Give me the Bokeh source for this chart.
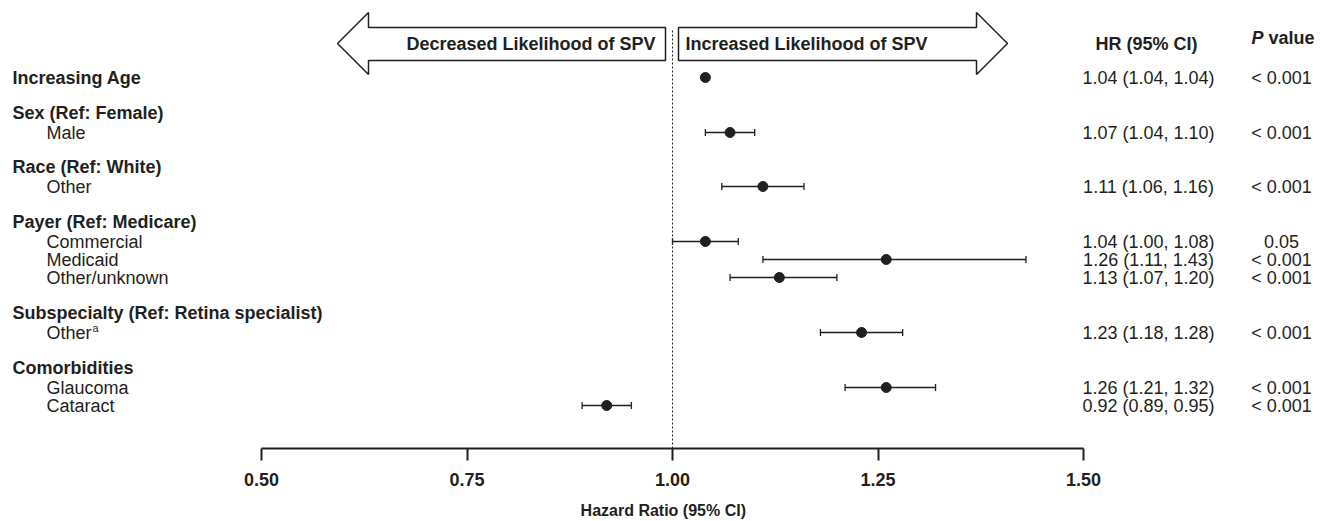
from bokeh.plotting import figure
from bokeh.models import Range1d, LinearAxis, FixedTicker, PrintfTickFormatter, ColumnDataSource
from bokeh.core.properties import value
from bokeh.embed import file_html
from bokeh.resources import INLINE

# ---------------- data ----------------
group_names = ["Increasing Age", "Sex (Ref: Female)", "Race (Ref: White)",
               "Payer (Ref: Medicare)", "Subspecialty (Ref: Retina specialist)", "Comorbidities"]
group_items = [[], ["Male"], ["Other"], ["Commercial", "Medicaid", "Other/unknown"],
               ["Other"], ["Glaucoma", "Cataract"]]
superscripts = ["", "", "", "", "", "", "a", "", ""]
hr = [1.04, 1.07, 1.11, 1.04, 1.26, 1.13, 1.23, 1.26, 0.92]
ci_lo = [1.04, 1.04, 1.06, 1.00, 1.11, 1.07, 1.18, 1.21, 0.89]
ci_hi = [1.04, 1.10, 1.16, 1.08, 1.43, 1.20, 1.28, 1.32, 0.95]
p_values = ["< 0.001", "< 0.001", "< 0.001", "0.05", "< 0.001", "< 0.001",
            "< 0.001", "< 0.001", "< 0.001"]
tick_values = [0.50, 0.75, 1.00, 1.25, 1.50]
ref_value = 1.0

# ---------------- layout ----------------
W, FH = 1330, 448
SCALE = 822.0                    # px per HR unit
X0 = 0.5 - 261 / SCALE
X1 = X0 + W / SCALE
FONT = "Liberation Sans"
INK = "#231f20"

def px(p):
    return X0 + p / SCALE

# row positions
header_y, header_txt = [], []
item_y, item_txt = [], []
data_y = []
y = 77
for g, (name, items) in enumerate(zip(group_names, group_items)):
    if g > 0:
        y += 34 if g == 2 else 35
    header_y.append(y)
    header_txt.append(name)
    if not items:
        data_y.append(y)
    for k, it in enumerate(items):
        y += 20 if k == 0 else 18
        item_y.append(y)
        item_txt.append(it)
        data_y.append(y)

p = figure(frame_width=W, frame_height=FH, x_range=Range1d(X0, X1), y_range=Range1d(FH, 0),
           x_axis_type=None, y_axis_type=None, toolbar_location=None,
           output_backend="svg", min_border=0, min_border_left=0, min_border_right=0,
           min_border_top=0)
p.outline_line_color = None
p.background_fill_color = "white"
p.border_fill_color = "white"

# arrows
def arrow(sign, near):
    xs_px = [near, 304, 304, 335, 304, 304, near]
    ys = [27, 27, 12, 43, 74, 60, 60]
    xs = [ref_value + sign * d / SCALE for d in xs_px]
    return xs, ys

lx, ly = arrow(-1, 7)
rx, ry = arrow(1, 6)
p.patch(lx, ly, fill_color="white", line_color=INK, line_width=1.5)
p.patch(rx, ry, fill_color="white", line_color=INK, line_width=1.5)
p.text([ref_value - 17 / SCALE], [43], text=["Decreased Likelihood of SPV"], text_font=value(FONT),
       text_font_size="18px", text_font_style="bold", text_align="right",
       text_baseline="middle", text_color=INK)
p.text([ref_value + 13 / SCALE], [43], text=["Increased Likelihood of SPV"], text_font=value(FONT),
       text_font_size="18px", text_font_style="bold", text_align="left",
       text_baseline="middle", text_color=INK)

# reference dotted line
p.segment(x0=[ref_value], y0=[30], x1=[ref_value], y1=[FH], line_color=INK,
          line_width=1, line_dash="2 2")

# CI whiskers
src = ColumnDataSource(dict(
    y=data_y, hr=hr, lo=ci_lo, hi=ci_hi,
    ytop=[v - 3.5 for v in data_y], ybot=[v + 3.5 for v in data_y],
    hrtxt=[f"{a:.2f} ({b:.2f}, {c:.2f})" for a, b, c in zip(hr, ci_lo, ci_hi)],
    ptxt=p_values,
    xhr=[px(1148)] * len(hr), xp=[px(1281)] * len(hr),
))
p.segment(x0="lo", y0="y", x1="hi", y1="y", source=src, line_color=INK, line_width=1.3)
p.segment(x0="lo", y0="ytop", x1="lo", y1="ybot", source=src, line_color=INK, line_width=1.3)
p.segment(x0="hi", y0="ytop", x1="hi", y1="ybot", source=src, line_color=INK, line_width=1.3)
p.scatter(x="hr", y="y", source=src, size=10, marker="circle", fill_color=INK, line_color=INK)

# left labels
p.text(x=[px(12)] * len(header_y), y=header_y, text=header_txt, text_font=value(FONT),
       text_font_size="18px", text_font_style="bold", text_align="left",
       text_baseline="middle", text_color=INK)
p.text(x=[px(46)] * len(item_y), y=item_y, text=item_txt, text_font=value(FONT),
       text_font_size="18px", text_align="left", text_baseline="middle", text_color=INK)
sup_y = [yy - 5 for yy, s in zip(data_y, superscripts) if s]
sup_t = [s for s in superscripts if s]
p.text(x=[px(92)] * len(sup_y), y=sup_y, text=sup_t, text_font=value(FONT),
       text_font_size="11px", text_align="left", text_baseline="middle", text_color=INK)

# right columns
p.text(x="xhr", y="y", text="hrtxt", source=src, text_font=value(FONT), text_font_size="18px",
       text_align="center", text_baseline="middle", text_color=INK)
p.text(x="xp", y="y", text="ptxt", source=src, text_font=value(FONT), text_font_size="18px",
       text_align="center", text_baseline="middle", text_color=INK)
p.text([px(1146)], [43], text=["HR (95% CI)"], text_font=value(FONT), text_font_size="18px",
       text_font_style="bold", text_align="center", text_baseline="middle", text_color=INK)
p.text([px(1251)], [37], text=["P"], text_font=value(FONT), text_font_size="18px",
       text_font_style="bold italic", text_align="left", text_baseline="middle", text_color=INK)
p.text([px(1268)], [37], text=["value"], text_font=value(FONT), text_font_size="18px",
       text_font_style="bold", text_align="left", text_baseline="middle", text_color=INK)

# axis
ax = LinearAxis(ticker=FixedTicker(ticks=tick_values), formatter=PrintfTickFormatter(format="%.2f"))
ax.bounds = (0.5, 1.5)
ax.axis_line_width = 2
ax.axis_line_color = INK
ax.major_tick_line_width = 2
ax.major_tick_line_color = INK
ax.major_tick_out = 12
ax.major_tick_in = 0
ax.minor_tick_out = 0
ax.minor_tick_in = 0
ax.major_label_text_font = FONT
ax.major_label_text_font_size = "18px"
ax.major_label_text_font_style = "bold"
ax.major_label_text_color = INK
ax.major_label_standoff = 12
ax.axis_label = "Hazard  Ratio (95% CI)"
ax.axis_label_text_font = FONT
ax.axis_label_text_font_size = "16px"
ax.axis_label_text_font_style = "bold"
ax.axis_label_text_color = INK
ax.axis_label_standoff = 13
p.add_layout(ax, "below")

open("out.html", "w").write(file_html(p, INLINE))
